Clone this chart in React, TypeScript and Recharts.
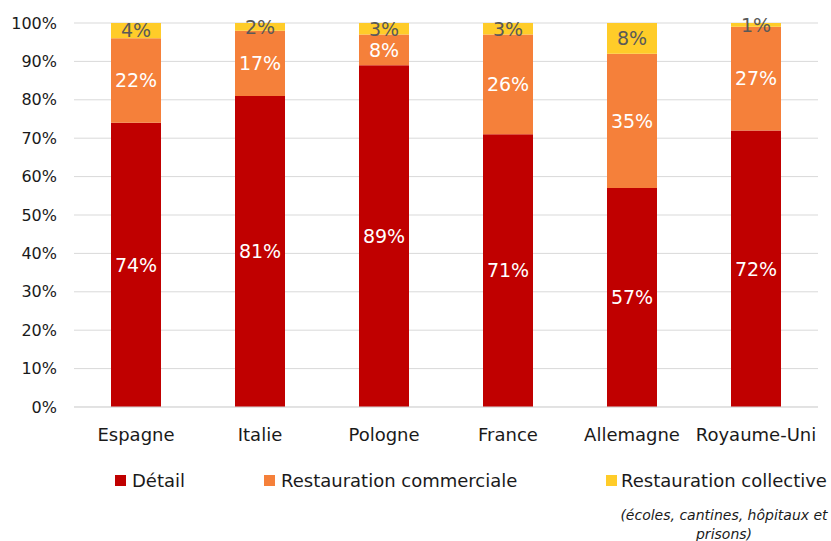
import { Bar, BarChart, CartesianGrid, LabelList, Legend, XAxis, YAxis } from "recharts";

const categories = ["Espagne", "Italie", "Pologne", "France", "Allemagne", "Royaume-Uni"];
const detail = [74, 81, 89, 71, 57, 72];
const commerciale = [22, 17, 8, 26, 35, 27];
const collective = [4, 2, 3, 3, 8, 1];
const yTicks = [0, 10, 20, 30, 40, 50, 60, 70, 80, 90, 100];

const series = [
  { key: "detail", name: "Détail", color: "#c00000", labelColor: "#ffffff" },
  { key: "commerciale", name: "Restauration commerciale", color: "#f5803a", labelColor: "#ffffff" },
  { key: "collective", name: "Restauration collective", color: "#ffcc29", labelColor: "#595959" },
];

const data = categories.map((name, i) => ({
  name,
  detail: detail[i],
  commerciale: commerciale[i],
  collective: collective[i],
}));

const FONT = "'DejaVu Sans', sans-serif";
const legendLeft = [115, 264, 606];

function ChartLegend() {
  return (
    <div style={{ position: "relative", width: 831, height: 70, fontFamily: FONT, color: "#1a1a1a" }}>
      {series.map((s, i) => (
        <div
          key={s.key}
          style={{
            position: "absolute",
            left: legendLeft[i],
            top: 0,
            display: "flex",
            alignItems: "center",
            fontSize: 18,
            whiteSpace: "nowrap",
          }}
        >
          <span style={{ width: 11, height: 11, background: s.color, marginRight: i === 2 ? 4 : 6, display: "inline-block" }} />
          <span>{s.name}</span>
        </div>
      ))}
      <div
        style={{
          position: "absolute",
          left: 612,
          top: 36,
          width: 224,
          textAlign: "center",
          fontSize: 14,
          fontStyle: "italic",
          lineHeight: "19px",
          color: "#1a1a1a",
        }}
      >
        (écoles, cantines, hôpitaux et prisons)
      </div>
    </div>
  );
}

export default function App() {
  return (
    <div style={{ position: "absolute", left: 0, top: 0, width: 831, height: 541, background: "#fff", overflow: "hidden" }}>
      <BarChart
        width={831}
        height={541}
        data={data}
        margin={{ top: 23, right: 13, left: 14, bottom: 104 }}
        barSize={50}
      >
        <CartesianGrid vertical={false} stroke="#d9d9d9" />
        <XAxis
          dataKey="name"
          axisLine={{ stroke: "#d9d9d9" }}
          tickLine={false}
          interval={0}
          tickMargin={15}
          tick={{ fontSize: 18, fill: "#1a1a1a", fontFamily: FONT }}
        />
        <YAxis
          width={60}
          domain={[0, 100]}
          ticks={yTicks}
          interval={0}
          axisLine={false}
          tickLine={false}
          tickMargin={11}
          tickFormatter={(v: number) => `${v}%`}
          tick={{ fontSize: 16, fill: "#1a1a1a", fontFamily: FONT }}
        />
        {series.map((s) => (
          <Bar key={s.key} dataKey={s.key} name={s.name} stackId="a" fill={s.color} isAnimationActive={false}>
            <LabelList
              dataKey={s.key}
              position="center"
              formatter={(v: number) => `${v}%`}
              style={{ fill: s.labelColor, fontSize: 19, fontFamily: FONT }}
            />
          </Bar>
        ))}
        <Legend
          layout="horizontal"
          verticalAlign="middle"
          align="center"
          content={() => <ChartLegend />}
          wrapperStyle={{ left: 0, top: 470, width: 831 }}
        />
      </BarChart>
    </div>
  );
}
